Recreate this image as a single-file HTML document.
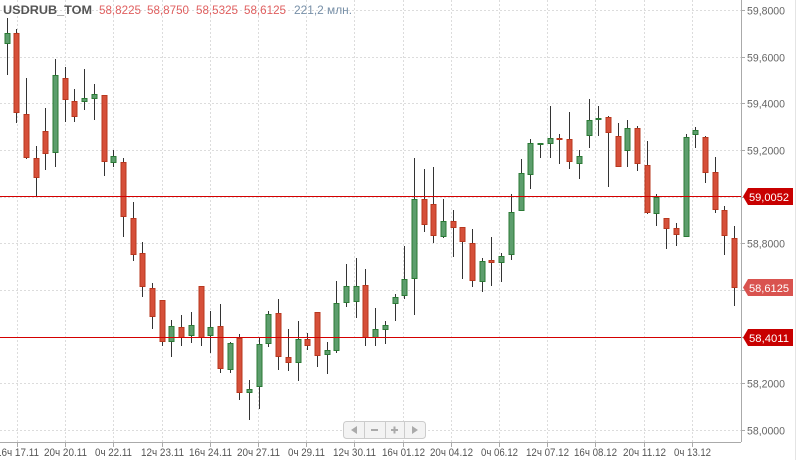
<!DOCTYPE html>
<html><head><meta charset="utf-8"><style>
html,body{margin:0;padding:0;background:#fff;}
svg{display:block;font-family:"Liberation Sans","DejaVu Sans",sans-serif;}
</style></head><body>
<svg id="c" width="800" height="460" xmlns="http://www.w3.org/2000/svg">
<rect width="800" height="460" fill="#fff"/>
<g id="grid" stroke="#dcdcdc" stroke-width="1" stroke-dasharray="2,2"></g>
<g id="candles"></g>
<line x1="0" y1="196.5" x2="741" y2="196.5" stroke="#d40000" stroke-width="1"/>
<line x1="0" y1="337.5" x2="741" y2="337.5" stroke="#d40000" stroke-width="1"/>
<line x1="741.5" y1="0" x2="741.5" y2="442" stroke="#aaa"/>
<line x1="0" y1="442.5" x2="741" y2="442.5" stroke="#aaa"/>
<line x1="795.5" y1="0" x2="795.5" y2="460" stroke="#e4e4e4"/>
<g id="ylab" font-size="11" fill="#666"></g>
<g id="xlab" font-size="11" fill="#555" text-anchor="middle"></g>
<!-- price tags -->
<path d="M743 196.5 L748 188 L793 188 L793 205 L748 205 Z" fill="#c80000"/>
<text x="749" y="201" font-size="11" fill="#fff" textLength="40" lengthAdjust="spacingAndGlyphs">59,0052</text>
<path d="M743 287.5 L748 279 L793 279 L793 296 L748 296 Z" fill="#d9534f"/>
<text x="749" y="292" font-size="11" fill="#fff" textLength="40" lengthAdjust="spacingAndGlyphs">58,6125</text>
<path d="M743 337.5 L748 329 L793 329 L793 346 L748 346 Z" fill="#c80000"/>
<text x="749" y="342" font-size="11" fill="#fff" textLength="40" lengthAdjust="spacingAndGlyphs">58,4011</text>
<!-- header -->
<text x="3" y="14" font-size="12" font-weight="bold" fill="#555" textLength="89" lengthAdjust="spacingAndGlyphs">USDRUB_TOM</text>
<text x="99" y="14" font-size="12" fill="#e06060" textLength="42" lengthAdjust="spacingAndGlyphs">58,8225</text>
<text x="147" y="14" font-size="12" fill="#e06060" textLength="42" lengthAdjust="spacingAndGlyphs">58,8750</text>
<text x="196" y="14" font-size="12" fill="#e06060" textLength="42" lengthAdjust="spacingAndGlyphs">58,5325</text>
<text x="244" y="14" font-size="12" fill="#e06060" textLength="42" lengthAdjust="spacingAndGlyphs">58,6125</text>
<text x="294" y="14" font-size="12" fill="#7890a8" textLength="58" lengthAdjust="spacingAndGlyphs">221,2 млн.</text>
<!-- nav -->
<rect x="343.5" y="421.5" width="82" height="17" rx="3" fill="#f3f3f3" stroke="#ccc"/>
<line x1="364.5" y1="422" x2="364.5" y2="438" stroke="#ccc"/>
<line x1="385.5" y1="422" x2="385.5" y2="438" stroke="#ccc"/>
<line x1="404.5" y1="422" x2="404.5" y2="438" stroke="#ccc"/>
<path d="M351 430 L357 426 L357 434 Z" fill="#aaa"/>
<rect x="371" y="429" width="7" height="2" fill="#aaa"/>
<rect x="391" y="429" width="7" height="2" fill="#aaa"/><rect x="393.5" y="426.5" width="2" height="7" fill="#aaa"/>
<path d="M418 430 L412 426 L412 434 Z" fill="#aaa"/>
</svg>
<script>
var NS="http://www.w3.org/2000/svg";
function el(p,t,a){var e=document.createElementNS(NS,t);for(var k in a)e.setAttribute(k,a[k]);p.appendChild(e);return e;}
var g=document.getElementById('grid');
var ys=[10,56.7,103.3,150,196.7,243.3,290,336.7,383.3,430];
var yl=document.getElementById('ylab');
var labs=["59,8000","59,6000","59,4000","59,2000","59,0000","58,8000","58,6000","58,4000","58,2000","58,0000"];
ys.forEach(function(y,i){y=Math.round(y)+0.5;el(g,'line',{x1:0,y1:y,x2:741,y2:y});
 if(i!=4&&i!=7&&i!=6){var t=el(yl,'text',{x:747,y:y+4,textLength:38,lengthAdjust:'spacingAndGlyphs'});t.textContent=labs[i];}
 el(yl,'line',{x1:741,y1:y,x2:745,y2:y,stroke:'#aaa'});});
var xl=document.getElementById('xlab');
var xs=["16ч 17.11","20ч 20.11","0ч 22.11","12ч 23.11","16ч 24.11","20ч 27.11","0ч 29.11","12ч 30.11","16ч 01.12","20ч 04.12","0ч 06.12","12ч 07.12","16ч 08.12","20ч 11.12","0ч 13.12"];
xs.forEach(function(s,i){var x=Math.round(17+48.2*i)+0.5;el(g,'line',{x1:x,y1:0,x2:x,y2:442});
 el(xl,'line',{x1:x,y1:442,x2:x,y2:447,stroke:'#aaa'});
 var w=s.length==9?43:37;
 var t=el(xl,'text',{x:x,y:456,textLength:w,lengthAdjust:'spacingAndGlyphs'});t.textContent=s;});
var C=[
["G",33,43,18,75],["R",33,112,29,123],["R",114,157,78,159],["R",158,177,146,196],["R",131,153,108,170],
["G",75,152,59,167],["R",78,99,67,122],["R",101,116,89,122],["G",98,101,69,110],["G",94,98,84,120],
["R",95,161,95,176],["G",156,162,150,167],["R",162,216,158,237],["R",218,254,202,261],["R",253,286,242,297],
["R",288,316,283,329],["R",300,341,300,346],["G",326,341,320,357],["R",327,337,315,346],["G",325,335,312,343],
["R",286,337,286,346],["G",327,335,311,353],["R",326,368,304,373],["G",343,369,342,373],["R",338,392,334,400],
["G",389,392,380,420],["G",344,386,337,409],["G",314,343,311,347],["R",313,356,299,370],["R",357,362,329,371],
["G",339,362,321,381],["R",339,345,333,350],["R",312,355,312,367],["G",350,354,342,374],["G",303,350,281,353],
["G",286,302,264,307],["G",286,301,258,318],["R",285,337,269,346],["G",329,337,308,346],["G",325,329,321,344],
["G",297,303,294,321],["G",279,295,246,299],["G",199,278,158,315],["R",199,224,169,232],["R",204,235,167,243],
["G",221,236,199,238],["R",221,227,210,257],["R",227,241,227,279],["R",243,280,229,287],["G",261,281,258,292],
["R",260,262,237,286],["G",256,262,253,282],["G",212,254,194,260],["G",173,210,159,211],["G",143,174,139,189],
["G",143,144,143,158],["G",138,143,106,158],["R",138,139,134,164],["R",139,161,112,169],["G",156,163,150,179],
["G",120,135,99,148],["G",118,119,106,136],["R",117,132,116,187],["R",136,166,123,167],["G",128,150,120,167],
["R",128,163,126,171],["R",165,212,141,214],["G",197,213,194,226],["R",218,228,218,249],["R",228,234,223,246],
["G",137,236,134,237],["G",130,134,127,148],["R",137,172,136,183],["R",172,209,157,213],["R",210,235,206,255],
["R",238,287,226,306]];
var cg=document.getElementById('candles');
C.forEach(function(c,i){var x=Math.round(6.5+9.7*i);
 el(cg,'line',{x1:x+0.5,y1:c[3],x2:x+0.5,y2:c[4],stroke:'#333','stroke-width':1});
 var h=Math.max(c[2]-c[1],1);
 el(cg,'rect',{x:x-2,y:c[1]+0.5,width:5,height:h,fill:c[0]=='G'?'#5d9e6d':'#d6503a',stroke:c[0]=='G'?'#2b7a35':'#b8381f','stroke-width':1});
});
</script>
</body></html>
